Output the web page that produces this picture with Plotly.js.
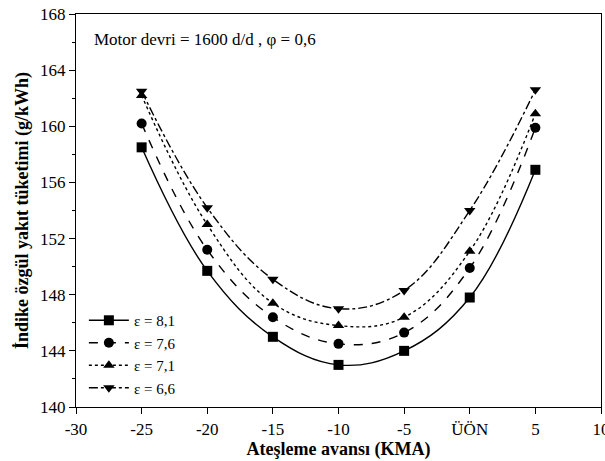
<!DOCTYPE html>
<html>
<head>
<meta charset="utf-8">
<script src="https://cdn.plot.ly/plotly-3.0.1.min.js"></script>
<style>html,body{margin:0;padding:0;background:#fff}#chart{width:605px;height:461px}</style>
</head>
<body>
<div id="chart"></div>
<script>
var xValues = [-25, -20, -15, -10, -5, 0, 5];
var eps81 = [158.5, 149.7, 145.0, 143.0, 144.0, 147.8, 156.9];
var eps76 = [160.2, 151.2, 146.4, 144.5, 145.3, 149.9, 159.9];
var eps71 = [162.2, 153.0, 147.4, 145.8, 146.4, 151.1, 160.9];
var eps66 = [162.5, 154.2, 149.1, 147.0, 148.3, 154.0, 162.6];
var seriesNames = ['\u03b5 = 8,1', '\u03b5 = 7,6', '\u03b5 = 7,1', '\u03b5 = 6,6'];
var xTickVals = [-30, -25, -20, -15, -10, -5, 0, 5, 10];
var xTickText = ['-30', '-25', '-20', '-15', '-10', '-5', '\u00dc\u00d6N', '5', '10'];

var serif = 'Liberation Serif, Times New Roman, serif';
var styles = [
  {dash: 'solid', symbol: 'square'},
  {dash: 'dash', symbol: 'circle'},
  {dash: 'dot', symbol: 'triangle-up'},
  {dash: 'dashdot', symbol: 'triangle-down'}
];
var ys = [eps81, eps76, eps71, eps66];
var traces = ys.map(function (y, i) {
  return {
    x: xValues, y: y, name: seriesNames[i], type: 'scatter', mode: 'lines+markers',
    line: {color: '#000', width: 1.4, dash: styles[i].dash, shape: 'spline', smoothing: 1.1},
    marker: {color: '#000', symbol: styles[i].symbol, size: 10}
  };
});

var layout = {
  width: 605, height: 461,
  margin: {l: 76, r: 4, t: 14, b: 54},
  paper_bgcolor: '#fff', plot_bgcolor: '#fff',
  font: {family: serif, size: 16, color: '#000'},
  showlegend: true,
  legend: {x: 0.015, y: 0.262, xanchor: 'left', yanchor: 'top', bgcolor: 'rgba(0,0,0,0)',
           font: {family: serif, size: 15}, tracegroupgap: 0, itemwidth: 40},
  xaxis: {
    range: [-30, 10], tickvals: xTickVals, ticktext: xTickText,
    ticks: 'outside', ticklen: 6, tickcolor: '#000', showgrid: false, zeroline: false,
    showline: true, linecolor: '#000', linewidth: 1.2, mirror: true,
    ticklabeloverflow: 'allow',
    tickfont: {family: serif, size: 17},
    title: {text: '<b>Ate\u015fleme avans\u0131 (KMA)</b>', font: {family: serif, size: 18}, standoff: 2}
  },
  yaxis: {
    range: [140, 168], dtick: 4, tick0: 140,
    ticks: 'outside', ticklen: 6, tickcolor: '#000', showgrid: false, zeroline: false,
    showline: true, linecolor: '#000', linewidth: 1.2, mirror: true,
    minor: {dtick: 2, ticks: 'outside', ticklen: 3, tickcolor: '#000', showgrid: false},
    tickfont: {family: serif, size: 17},
    title: {text: '<b>\u0130ndike \u00f6zg\u00fcl yak\u0131t t\u00fcketimi (g/kWh)</b>', font: {family: serif, size: 18}, standoff: 6}
  },
  annotations: [{
    xref: 'paper', yref: 'paper', x: 0.03, y: 0.935, xanchor: 'left', yanchor: 'middle',
    text: 'Motor devri = 1600 d/d , \u03c6 = 0,6', showarrow: false,
    font: {family: serif, size: 17, color: '#000'}
  }]
};
Plotly.newPlot('chart', traces, layout, {displayModeBar: false, staticPlot: true});
</script>
</body>
</html>
